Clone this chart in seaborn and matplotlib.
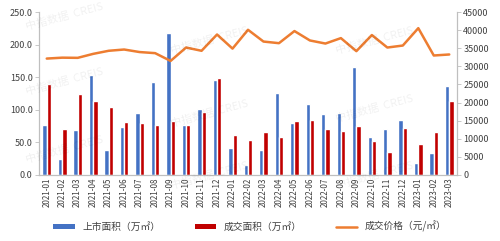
import numpy as np
import pandas as pd
import matplotlib.pyplot as plt
import seaborn as sns
from matplotlib.lines import Line2D
from matplotlib.patches import Patch

months = ["2021-01", "2021-02", "2021-03", "2021-04", "2021-05", "2021-06", "2021-07",
          "2021-08", "2021-09", "2021-10", "2021-11", "2021-12", "2022-01", "2022-02",
          "2022-03", "2022-04", "2022-05", "2022-06", "2022-07", "2022-08", "2022-09",
          "2022-10", "2022-11", "2022-12", "2023-01", "2023-02", "2023-03"]

# 上市面积 (万㎡)
supply = [76, 25, 69, 153, 39, 74, 95, 143, 218, 76, 101, 146, 41, 16, 38, 126,
          79, 109, 93, 95, 166, 59, 71, 84, 19, 33, 136]
# 成交面积 (万㎡)
deals = [139, 70, 124, 113, 104, 82, 80, 77, 83, 77, 97, 149, 61, 54, 66, 59,
         83, 85, 71, 67, 75, 52, 36, 72, 48, 66, 114]
# 成交价格 (元/㎡)
price = [32150, 32400, 32350, 33450, 34300, 34650, 33950, 33650, 31500, 35200,
         34300, 38800, 34900, 40100, 36850, 36400, 39750, 37150, 36300, 37800,
         34200, 38650, 35200, 35750, 40550, 33000, 33280]

labelSupply = "上市面积（万㎡）"
labelDeals = "成交面积（万㎡）"
labelPrice = "成交价格（元/㎡）"

colBlue = "#4472C4"
colRed = "#C00000"
colOrange = "#ED7D31"
axisGrey = "#BFBFBF"
textGrey = "#404040"

sns.set_style("white")
plt.rcParams['font.family'] = ['Noto Sans CJK SC', 'DejaVu Sans']

df = pd.DataFrame({
    "month": months * 2,
    "value": supply + deals,
    "series": [labelSupply] * len(months) + [labelDeals] * len(months),
})

fig = plt.figure(figsize=(5.0, 2.41), dpi=100)
ax = fig.add_axes([0.078, 0.274, 0.836, 0.676])

sns.barplot(data=df, x="month", y="value", hue="series",
            palette=[colBlue, colRed], width=0.56, gap=0.0,
            saturation=1, legend=False, ax=ax)

ax.set_ylim(0, 250)
ax.set_yticks(np.arange(0, 251, 50))
ax.set_yticklabels([f"{v:.1f}" for v in np.arange(0, 251, 50)])
ax.set_xlim(-0.5, len(months) - 0.5)
ax.set_xlabel("")
ax.set_ylabel("")

ax2 = ax.twinx()
sns.lineplot(x=np.arange(len(months)), y=price, color=colOrange, lw=1.8, ax=ax2)
ax2.set_ylim(0, 45000)
ax2.set_yticks(np.arange(0, 45001, 5000))

for a in (ax, ax2):
    for side in ("top",):
        a.spines[side].set_visible(False)
    for side in ("left", "right", "bottom"):
        a.spines[side].set_color(axisGrey)
        a.spines[side].set_linewidth(0.8)
    a.tick_params(axis="y", labelsize=6.5, colors=textGrey, length=3, width=0.6,
                  color=axisGrey, pad=1.5)

ax.tick_params(axis="x", labelsize=5.8, colors=textGrey, rotation=90, length=0, pad=2)

# faint watermark
for (wx, wy) in [(0.13, 0.93), (0.42, 0.83), (0.13, 0.66), (0.42, 0.53),
                 (0.13, 0.38), (0.42, 0.27), (0.75, 0.83), (0.75, 0.55), (0.75, 0.27)]:
    fig.text(wx, wy, "中指数据  CREIS", fontsize=8, color="#000000", alpha=0.06,
             rotation=15, ha="center", va="center")

handles = [Patch(facecolor=colBlue, edgecolor="none"),
           Patch(facecolor=colRed, edgecolor="none"),
           Line2D([0], [0], color=colOrange, lw=1.8)]
fig.legend(handles, [labelSupply, labelDeals, labelPrice], loc="lower center",
           bbox_to_anchor=(0.5, 0.0), ncol=3, frameon=False, fontsize=7,
           handlelength=2.2, handleheight=0.5, columnspacing=3.5,
           labelcolor=textGrey)

fig.savefig("out.png", dpi=100)
